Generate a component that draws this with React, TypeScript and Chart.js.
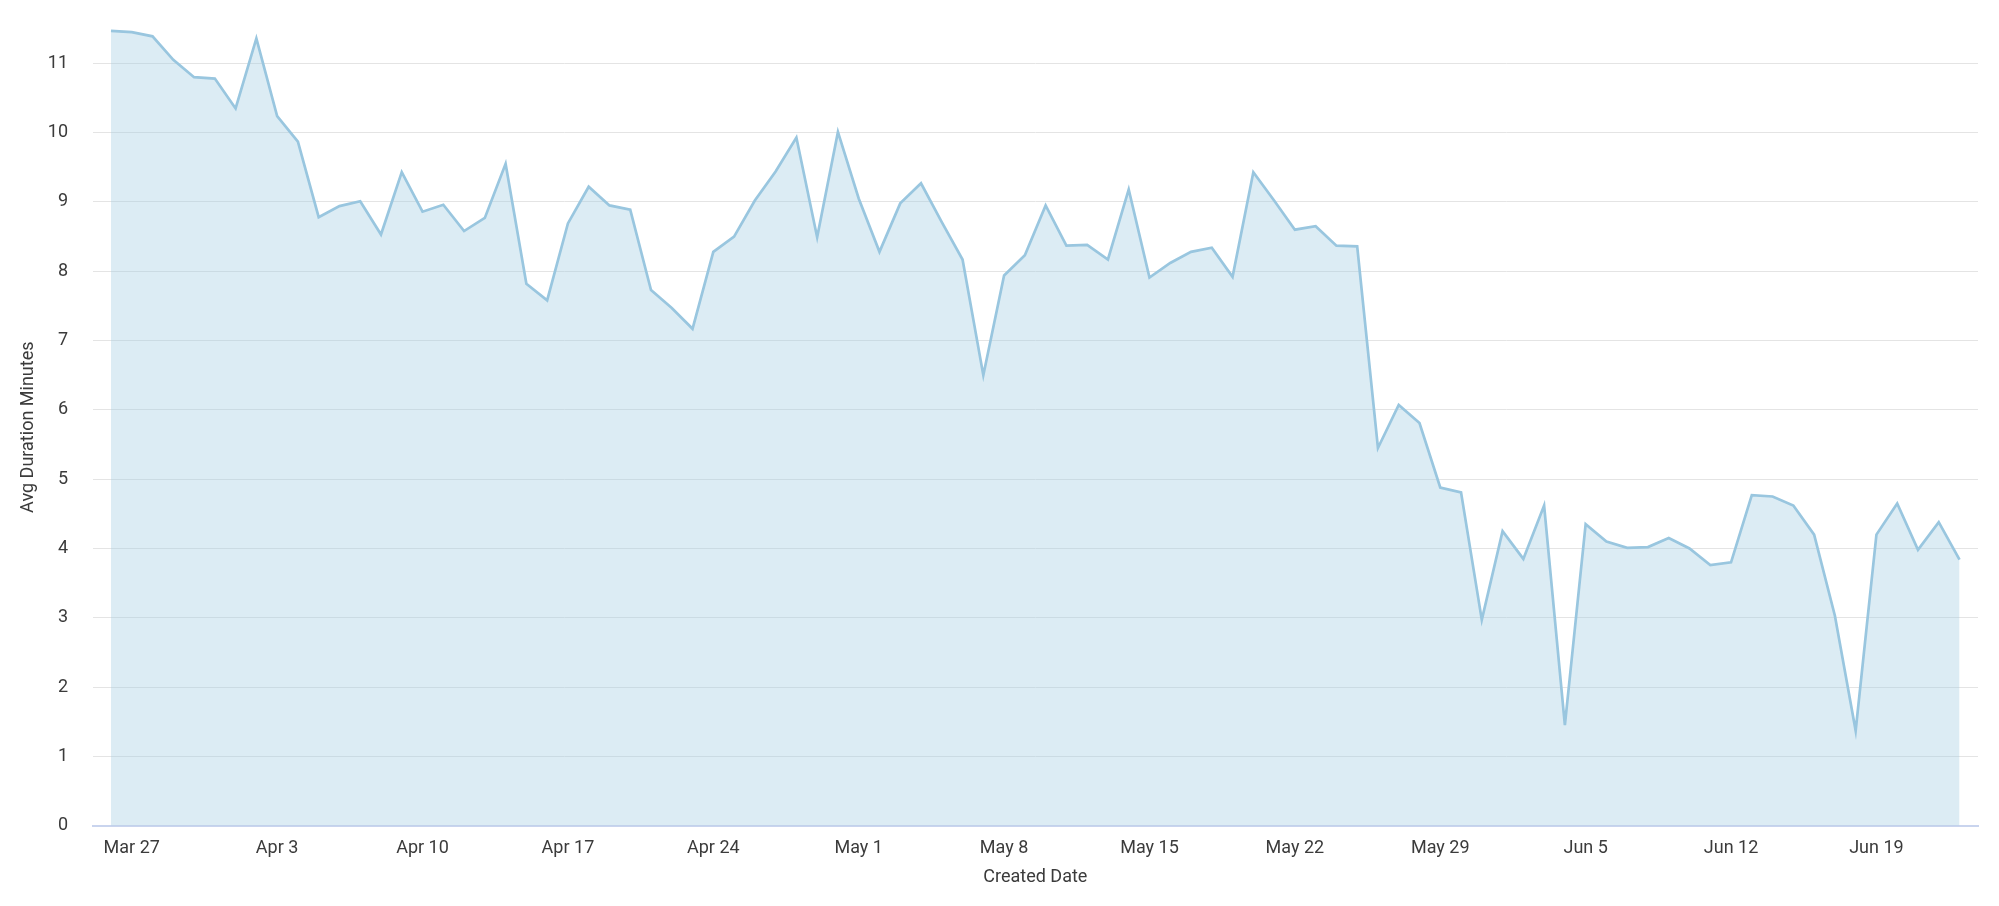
import React, { useEffect, useRef } from "react";
import { Chart, registerables } from "chart.js";

Chart.register(...registerables);

// Daily dates, Mar 26 – Jun 23
const dates: string[] = [
  "Mar 26", "Mar 27", "Mar 28", "Mar 29", "Mar 30", "Mar 31",
  "Apr 1", "Apr 2", "Apr 3", "Apr 4", "Apr 5", "Apr 6", "Apr 7", "Apr 8", "Apr 9", "Apr 10",
  "Apr 11", "Apr 12", "Apr 13", "Apr 14", "Apr 15", "Apr 16", "Apr 17", "Apr 18", "Apr 19", "Apr 20",
  "Apr 21", "Apr 22", "Apr 23", "Apr 24", "Apr 25", "Apr 26", "Apr 27", "Apr 28", "Apr 29", "Apr 30",
  "May 1", "May 2", "May 3", "May 4", "May 5", "May 6", "May 7", "May 8", "May 9", "May 10",
  "May 11", "May 12", "May 13", "May 14", "May 15", "May 16", "May 17", "May 18", "May 19", "May 20",
  "May 21", "May 22", "May 23", "May 24", "May 25", "May 26", "May 27", "May 28", "May 29", "May 30", "May 31",
  "Jun 1", "Jun 2", "Jun 3", "Jun 4", "Jun 5", "Jun 6", "Jun 7", "Jun 8", "Jun 9", "Jun 10",
  "Jun 11", "Jun 12", "Jun 13", "Jun 14", "Jun 15", "Jun 16", "Jun 17", "Jun 18", "Jun 19", "Jun 20",
  "Jun 21", "Jun 22", "Jun 23",
];

// Avg duration minutes per day
const avgDuration: number[] = [
  11.47, 11.45, 11.39, 11.05, 10.8, 10.78, 10.35, 11.36, 10.24, 9.87,
  8.78, 8.94, 9.01, 8.53, 9.43, 8.86, 8.96, 8.58, 8.77, 9.55,
  7.82, 7.58, 8.69, 9.22, 8.95, 8.89, 7.73, 7.47, 7.17, 8.28,
  8.5, 9.02, 9.44, 9.93, 8.49, 10.01, 9.05, 8.28, 8.98, 9.27,
  8.71, 8.17, 6.5, 7.94, 8.23, 8.95, 8.37, 8.38, 8.17, 9.18,
  7.91, 8.12, 8.28, 8.34, 7.92, 9.43, 9.02, 8.6, 8.65, 8.37,
  8.36, 5.45, 6.07, 5.81, 4.88, 4.81, 2.97, 4.25, 3.85, 4.62,
  1.45, 4.35, 4.1, 4.01, 4.02, 4.15, 4.0, 3.76, 3.8, 4.77,
  4.75, 4.62, 4.2, 3.03, 1.37, 4.2, 4.65, 3.98, 4.38, 3.84,
];

// Weekly x-axis tick labels
const tickLabels: string[] = [
  "Mar 27", "Apr 3", "Apr 10", "Apr 17", "Apr 24", "May 1", "May 8",
  "May 15", "May 22", "May 29", "Jun 5", "Jun 12", "Jun 19",
];

const yTicks: number[] = [0, 1, 2, 3, 4, 5, 6, 7, 8, 9, 10, 11];

const FONT = "Roboto, 'Noto Sans', sans-serif";
const TEXT = "#3b3b3b";

export default function App() {
  const ref = useRef<HTMLCanvasElement | null>(null);

  useEffect(() => {
    if (!ref.current) return;
    const tickIdx = tickLabels.map((l) => dates.indexOf(l));
    const chart = new Chart(ref.current, {
      type: "line",
      data: {
        datasets: [
          {
            label: "Avg Duration Minutes",
            data: avgDuration.map((y, i) => ({ x: i, y })),
            borderColor: "#99c6df",
            backgroundColor: "rgba(158,202,225,0.36)",
            borderWidth: 2.7,
            fill: "origin",
            pointRadius: 0,
            pointHoverRadius: 0,
            tension: 0,
          },
        ],
      },
      options: {
        animation: false,
        responsive: true,
        maintainAspectRatio: false,
        layout: { padding: { top: 20.7, right: 13, left: 0, bottom: 0 } },
        plugins: {
          legend: { display: false },
          tooltip: { enabled: false },
        },
        scales: {
          x: {
            type: "linear",
            min: -0.88,
            max: 89.89,
            grid: { display: false, drawTicks: false },
            border: { display: true, color: "#c9d4ee", width: 2 },
            afterBuildTicks: (axis: any) => {
              axis.ticks = tickIdx.map((value) => ({ value }));
            },
            afterFit: (axis: any) => {
              axis.height = 72.3;
              axis.paddingLeft = 0;
              axis.paddingRight = 0;
            },
            ticks: {
              autoSkip: false,
              maxRotation: 0,
              padding: 11.5,
              color: TEXT,
              font: { family: FONT, size: 18 },
              callback: (v: any) => dates[Math.round(Number(v))] ?? "",
            },
            title: {
              display: true,
              text: "Created Date",
              color: TEXT,
              font: { family: FONT, size: 18 },
              padding: { top: 4, bottom: 10 },
            },
          },
          y: {
            type: "linear",
            min: 0,
            max: 11.5,
            grid: { color: "#e4e4e4", lineWidth: 1, drawTicks: false },
            border: { display: false },
            afterBuildTicks: (axis: any) => {
              axis.ticks = yTicks.map((value) => ({ value }));
            },
            afterFit: (axis: any) => {
              axis.width = 84.7;
              axis.paddingTop = 0;
              axis.paddingBottom = 0;
            },
            ticks: {
              padding: 24.7,
              color: TEXT,
              font: { family: FONT, size: 18 },
            },
            title: {
              display: true,
              text: "Avg Duration Minutes",
              color: TEXT,
              font: { family: FONT, size: 18 },
              padding: { top: 9.5, bottom: 4 },
            },
          },
        },
      },
    });
    return () => chart.destroy();
  }, []);

  return (
    <div style={{ position: "relative", width: "100%", height: 890 }}>
      <canvas ref={ref} />
    </div>
  );
}
